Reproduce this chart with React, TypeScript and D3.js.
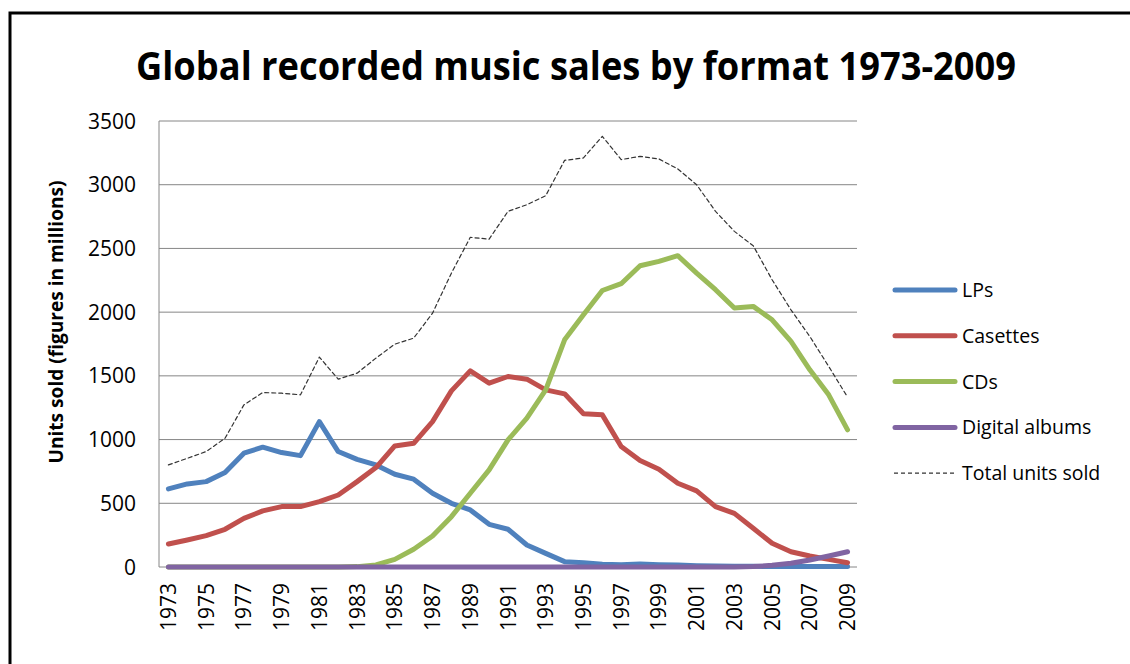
import React from 'react';
import * as d3 from 'd3';

// values (millions of units), 1973-2009
const years = d3.range(1973, 2010).map(String);
const xTickYears = years.filter((_, i) => i % 2 === 0);
const yTicks = [0, 500, 1000, 1500, 2000, 2500, 3000, 3500];

const lps = [613, 652, 670, 741, 893, 940, 898, 874, 1141, 906,
  845, 801, 728, 689, 579, 500, 448, 335, 296, 173,
  107, 42, 34, 21, 18, 24, 18, 15, 10, 8,
  6, 5, 4, 3, 3, 3, 3];
const casettes = [181, 212, 246, 296, 382, 440, 474, 474, 513, 565,
  670, 780, 950, 971, 1141, 1382, 1539, 1443, 1495, 1474,
  1390, 1359, 1202, 1194, 945, 835, 767, 657, 597, 474,
  421, 304, 186, 120, 86, 60, 34];
const cds = [0, 0, 0, 0, 0, 0, 0, 0, 0, 0,
  3, 16, 60, 139, 243, 395, 579, 762, 997, 1168,
  1390, 1783, 1979, 2170, 2223, 2364, 2398, 2443, 2306, 2176,
  2032, 2045, 1940, 1770, 1547, 1351, 1076];
const digital = [0, 0, 0, 0, 0, 0, 0, 0, 0, 0,
  0, 0, 0, 0, 0, 0, 0, 0, 0, 0,
  0, 0, 0, 0, 0, 0, 0, 0, 0, 0,
  0, 3, 13, 29, 55, 86, 120];
const total = [801, 853, 906, 1010, 1272, 1369, 1364, 1351, 1647, 1474,
  1521, 1639, 1749, 1796, 1992, 2306, 2587, 2573, 2791, 2843,
  2914, 3191, 3210, 3380, 3197, 3223, 3202, 3124, 3000, 2791,
  2634, 2521, 2254, 2018, 1809, 1574, 1333];

const series = [
  { name: 'LPs', values: lps, color: '#4F81BD', dashed: false },
  { name: 'Casettes', values: casettes, color: '#C0504D', dashed: false },
  { name: 'CDs', values: cds, color: '#9BBB59', dashed: false },
  { name: 'Digital albums', values: digital, color: '#8064A2', dashed: false },
  { name: 'Total units sold', values: total, color: '#333333', dashed: true },
];

const W = 1130;
const H = 664;
const plot = { left: 159, right: 857, top: 121, bottom: 567 };

export default function App() {
  const x = d3.scaleBand().domain(years).range([plot.left, plot.right]);
  const y = d3.scaleLinear().domain([0, 3500]).range([plot.bottom, plot.top]);
  const cx = (yr: string) => (x(yr) as number) + x.bandwidth() / 2;

  const line = d3.line<number>()
    .x((_, i) => cx(years[i]))
    .y((d) => y(d));

  const tickFont = '"Open Sans", sans-serif';

  return (
    <svg width={W} height={H} style={{ position: 'absolute', left: 0, top: 0, background: '#fff' }}>
      <rect x={10} y={13} width={1200} height={700} fill="#fff" stroke="#000" strokeWidth={3} />

      <text x={576} y={80} textAnchor="middle" fontFamily='"Liberation Sans Narrow", "Open Sans", sans-serif'
        fontWeight="bold" fontSize={40} textLength={880} lengthAdjust="spacingAndGlyphs" fill="#000">
        Global recorded music sales by format 1973-2009
      </text>

      {/* gridlines */}
      {yTicks.filter((t) => t > 0).map((t) => (
        <line key={t} x1={plot.left} x2={plot.right} y1={y(t)} y2={y(t)} stroke="#868686" strokeWidth={1} />
      ))}
      <line x1={plot.left} x2={plot.left} y1={plot.top} y2={plot.bottom} stroke="#868686" strokeWidth={1} />
      <line x1={plot.left} x2={plot.right} y1={plot.bottom} y2={plot.bottom} stroke="#868686" strokeWidth={1} />

      {/* y tick labels */}
      {yTicks.map((t) => (
        <text key={t} x={136} y={y(t)} dy="0.36em" textAnchor="end" fontFamily={tickFont} fontSize={21} fill="#000">
          {t}
        </text>
      ))}

      {/* x tick labels */}
      {xTickYears.map((yr) => (
        <text key={yr} transform={`translate(${cx(yr)},${583}) rotate(-90)`} dy="0.36em" textAnchor="end"
          fontFamily={tickFont} fontSize={21} fill="#000">
          {yr}
        </text>
      ))}

      <text transform={`translate(63,322) rotate(-90)`} textAnchor="middle" fontFamily='"Open Sans", sans-serif'
        fontWeight="bold" fontSize={19} textLength={283} lengthAdjust="spacingAndGlyphs" fill="#000">
        Units sold  (figures in millions)
      </text>

      {/* series */}
      {series.map((s) => (
        <path key={s.name} d={line(s.values) as string} fill="none" stroke={s.color}
          strokeWidth={s.dashed ? 1.2 : 5} strokeDasharray={s.dashed ? '4,3' : undefined}
          strokeLinejoin="round" strokeLinecap="round" />
      ))}

      {/* legend */}
      {series.map((s, i) => {
        const ly = 290 + i * 45.8;
        return (
          <g key={s.name}>
            <line x1={s.dashed ? 894 : 895} x2={s.dashed ? 956 : 955} y1={ly} y2={ly} stroke={s.color}
              strokeWidth={s.dashed ? 1.2 : 5} strokeDasharray={s.dashed ? '4,3' : undefined}
              strokeLinecap={s.dashed ? 'butt' : 'round'} />
            <text x={962} y={ly} dy="0.36em" fontFamily='"Open Sans", sans-serif' fontSize={19.5} fill="#000">
              {s.name}
            </text>
          </g>
        );
      })}
    </svg>
  );
}
